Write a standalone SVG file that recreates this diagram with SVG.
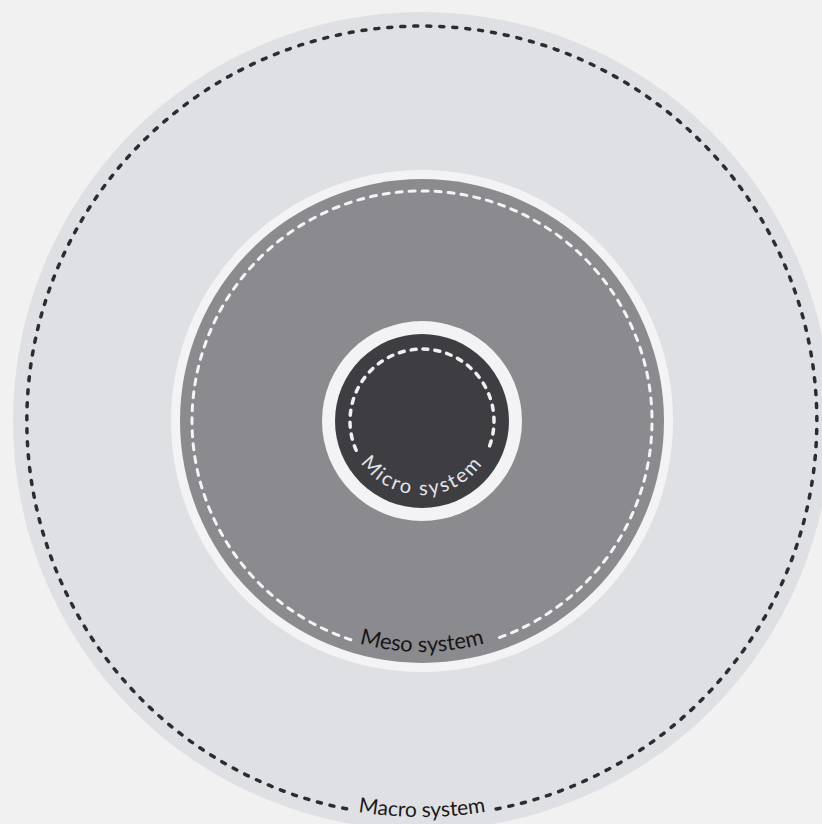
<svg xmlns="http://www.w3.org/2000/svg" width="822" height="824" viewBox="0 0 822 824">
<style>
.lbl{font-family:Lato,"Open Sans","Liberation Sans",sans-serif;font-size:22px;text-anchor:middle}
.ring{fill:#f3f3f6}
.dash{fill:none;stroke-linecap:round}
</style>
<defs>
<path id="microPath" d="M 348 421 A 74 74 0 0 0 496 421"/>
<path id="mesoPath" d="M 191 421 A 231 231 0 0 0 653 421"/>
<path id="macroPath" d="M 26 421 A 396 396 0 0 0 818 421"/>
</defs>
<rect width="822" height="824" fill="#f1f1f1"/>
<g id="macro">
<circle cx="422" cy="421" r="409" fill="#dfe0e4"/>
<path class="dash" d="M 346.6 808.8 A 395 395 0 1 1 490.6 810" stroke="#2d2d31" stroke-width="3.5" stroke-dasharray="4 9"/>
<text class="lbl" fill="#1a1a1a" style="font-size:21px"><textPath href="#macroPath" startOffset="50%">Macro system</textPath></text>
</g>
<g id="meso">
<circle class="ring" cx="422" cy="421" r="251"/>
<circle cx="422" cy="421" r="242" fill="#8b8a8f"/>
<path class="dash" d="M 350.9 639.7 A 230 230 0 1 1 493.1 639.7" stroke="#f4f4f6" stroke-width="3" stroke-dasharray="6 7"/>
<text class="lbl" fill="#161616"><textPath href="#mesoPath" startOffset="50%">Meso system</textPath></text>
</g>
<g id="micro">
<circle class="ring" cx="422" cy="421" r="100"/>
<circle cx="422" cy="421" r="87" fill="#3e3d42"/>
<path class="dash" d="M 356.2 450.3 A 72 72 0 1 1 487.3 451.4" stroke="#f0f0f3" stroke-width="3.5" stroke-dasharray="5 7"/>
<text class="lbl" fill="#e4e4e8" style="font-size:20px;letter-spacing:2.2px"><textPath href="#microPath" startOffset="50%">Micro system</textPath></text>
</g>
</svg>
